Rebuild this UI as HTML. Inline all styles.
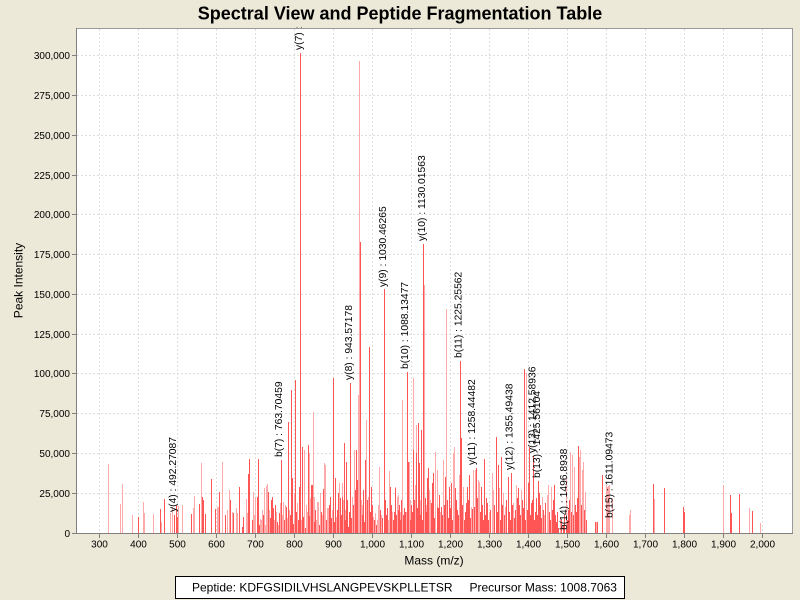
<!DOCTYPE html>
<html><head><meta charset="utf-8"><style>
html,body{margin:0;padding:0;background:#ece9d8;}
svg{display:block;font-family:"Liberation Sans",Arial,sans-serif;}
</style></head><body>
<svg width="800" height="600" viewBox="0 0 800 600" xmlns="http://www.w3.org/2000/svg">
<rect x="0" y="0" width="800" height="600" fill="#ece9d8"/>
<text x="400" y="19.5" text-anchor="middle" font-size="18" font-weight="bold" fill="#000">Spectral View and Peptide Fragmentation Table</text>
<rect x="76.5" y="28.5" width="716" height="505" fill="#fff"/>
<g stroke="#dedede" stroke-width="1" stroke-dasharray="2,2" fill="none" shape-rendering="crispEdges">
<path d="M99.5 29V533M138.5 29V533M177.5 29V533M216.5 29V533M255.5 29V533M294.5 29V533M333.5 29V533M372.5 29V533M411.5 29V533M450.5 29V533M489.5 29V533M528.5 29V533M567.5 29V533M606.5 29V533M645.5 29V533M684.5 29V533M723.5 29V533M762.5 29V533"/>
<path d="M77 55.5H792M77 95.5H792M77 135.5H792M77 175.5H792M77 214.5H792M77 254.5H792M77 294.5H792M77 334.5H792M77 373.5H792M77 413.5H792M77 453.5H792M77 493.5H792"/>
</g>
<g stroke-width="1" fill="none" shape-rendering="crispEdges">
<path stroke="#ffaaaa" d="M108.5 533V464M120.5 533V504M122.5 533V484M132.5 533V515M143.5 533V502M144.5 533V513M153.5 533V514M161.5 533V522M170.5 533V513M172.5 533V507M178.5 533V506M182.5 533V505M193.5 533V508M194.5 533V496M201.5 533V463M217.5 533V507M218.5 533V507M222.5 533V462M227.5 533V510M229.5 533V490M232.5 533V512M236.5 533V508M237.5 533V513M246.5 533V499M247.5 533V513M253.5 533V492M255.5 533V497M260.5 533V519M262.5 533V510M264.5 533V488M266.5 533V486M267.5 533V484M280.5 533V503M283.5 533V502M285.5 533V505M294.5 533V493M297.5 533V503M304.5 533V450M306.5 533V505M309.5 533V453M310.5 533V498M313.5 533V412M314.5 533V497M317.5 533V502M318.5 533V502M320.5 533V493M324.5 533V463M325.5 533V465M327.5 533V508M328.5 533V508M336.5 533V517M339.5 533V483M342.5 533V483M343.5 533V500M352.5 533V497M354.5 533V450M358.5 533V395M359.5 533V61M361.5 533V500M366.5 533V420M368.5 533V497M373.5 533V517M375.5 533V513M379.5 533V467M389.5 533V471M392.5 533V512M395.5 533V487M397.5 533V497M398.5 533V495M402.5 533V400M409.5 533V462M413.5 533V378M415.5 533V485M416.5 533V425M420.5 533V500M424.5 533V285M429.5 533V490M430.5 533V500M433.5 533V510M435.5 533V452M437.5 533V470M443.5 533V460M446.5 533V309M453.5 533V453M454.5 533V447M459.5 533V475M463.5 533V487M471.5 533V507M473.5 533V470M475.5 533V470M478.5 533V480M479.5 533V482M489.5 533V512M492.5 533V473M493.5 533V490M499.5 533V488M503.5 533V493M505.5 533V507M513.5 533V503M516.5 533V485M521.5 533V490M526.5 533V373M542.5 533V497M544.5 533V515M547.5 533V495M548.5 533V485M551.5 533V487M560.5 533V517M566.5 533V479M570.5 533V452M572.5 533V455M574.5 533V467M579.5 533V457M580.5 533V450M582.5 533V470M583.5 533V462M585.5 533V492M596.5 533V522M606.5 533V485M607.5 533V487M608.5 533V486M609.5 533V485M612.5 533V498M629.5 533V515M630.5 533V510M654.5 533V499M723.5 533V485M749.5 533V508M760.5 533V523M254.5 533V515M261.5 533V520M265.5 533V525M269.5 533V510M274.5 533V520M276.5 533V512M278.5 533V525M282.5 533V515M287.5 533V518M289.5 533V510M296.5 533V525M301.5 533V520M307.5 533V512M316.5 533V520M322.5 533V515M332.5 533V510M339.5 533V520M345.5 533V510M353.5 533V520M360.5 533V515M362.5 533V505M367.5 533V515M377.5 533V520M378.5 533V505M381.5 533V515M388.5 533V520M400.5 533V512M404.5 533V520M406.5 533V512M410.5 533V500M419.5 533V522M426.5 533V505M431.5 533V515M435.5 533V505M440.5 533V512"/>
<path stroke="#ff5555" d="M138.5 533V517M160.5 533V509M164.5 533V499M174.5 533V515M176.5 533V505M177.5 533V517M191.5 533V514M199.5 533V504M202.5 533V497M203.5 533V500M205.5 533V514M211.5 533V479M215.5 533V509M219.5 533V492M225.5 533V515M230.5 533V500M233.5 533V513M239.5 533V487M242.5 533V527M243.5 533V517M248.5 533V474M249.5 533V459M257.5 533V497M258.5 533V459M268.5 533V492M271.5 533V500M272.5 533V497M273.5 533V508M275.5 533V505M281.5 533V460M286.5 533V507M288.5 533V422M291.5 533V390M292.5 533V478M295.5 533V380M299.5 533V487M300.5 533V53M302.5 533V447M303.5 533V517M308.5 533V445M311.5 533V485M312.5 533V485M323.5 533V489M330.5 533V497M333.5 533V378M335.5 533V478M338.5 533V493M340.5 533V498M342.5 533V497M344.5 533V443M346.5 533V462M347.5 533V500M348.5 533V527M350.5 533V383M355.5 533V490M356.5 533V450M357.5 533V480M360.5 533V242M363.5 533V490M365.5 533V460M367.5 533V500M369.5 533V347M371.5 533V487M384.5 533V289M386.5 533V515M390.5 533V487M395.5 533V488M398.5 533V510M401.5 533V500M403.5 533V515M407.5 533V372M408.5 533V462M413.5 533V450M416.5 533V453M418.5 533V423M419.5 533V463M421.5 533V430M423.5 533V244M427.5 533V478M428.5 533V468M432.5 533V483M431.5 533V503M433.5 533V473M437.5 533V507M441.5 533V507M445.5 533V477M447.5 533V500M449.5 533V487M451.5 533V483M455.5 533V488M457.5 533V510M460.5 533V361M461.5 533V438M466.5 533V503M467.5 533V487M469.5 533V475M472.5 533V509M474.5 533V507M476.5 533V468M481.5 533V487M484.5 533V459M487.5 533V503M496.5 533V437M498.5 533V465M501.5 533V457M508.5 533V477M511.5 533V473M518.5 533V488M522.5 533V500M524.5 533V369M528.5 533V483M529.5 533V447M531.5 533V503M533.5 533V456M538.5 533V481M539.5 533V493M554.5 533V485M563.5 533V525M566.5 533V530M578.5 533V446M595.5 533V522M597.5 533V522M602.5 533V475M653.5 533V484M664.5 533V488M683.5 533V507M684.5 533V512M730.5 533V495M731.5 533V513M739.5 533V494M752.5 533V511M252.5 533V520M259.5 533V525M263.5 533V515M270.5 533V518M277.5 533V522M279.5 533V513M284.5 533V520M290.5 533V515M293.5 533V524M296.5 533V512M298.5 533V520M305.5 533V528M309.5 533V516M314.5 533V522M315.5 533V510M319.5 533V525M321.5 533V512M326.5 533V520M329.5 533V505M331.5 533V518M334.5 533V522M337.5 533V510M341.5 533V515M345.5 533V520M349.5 533V512M351.5 533V518M353.5 533V505M362.5 533V515M364.5 533V522M370.5 533V512M372.5 533V505M374.5 533V520M376.5 533V525M380.5 533V510M382.5 533V518M385.5 533V500M387.5 533V508M391.5 533V505M393.5 533V520M394.5 533V512M396.5 533V515M399.5 533V505M400.5 533V520M404.5 533V508M405.5 533V512M410.5 533V520M411.5 533V505M412.5 533V512M414.5 533V500M417.5 533V508M420.5 533V515M422.5 533V520M425.5 533V498M426.5 533V512M434.5 533V518M438.5 533V508M439.5 533V495M442.5 533V515M444.5 533V505M448.5 533V518M450.5 533V508M452.5 533V520M456.5 533V500M458.5 533V515M462.5 533V505M464.5 533V520M465.5 533V512M468.5 533V500M470.5 533V518M477.5 533V498M480.5 533V512M482.5 533V505M483.5 533V520M485.5 533V515M486.5 533V498M488.5 533V520M490.5 533V510M494.5 533V505M497.5 533V512M500.5 533V520M502.5 533V505M504.5 533V515M506.5 533V500M509.5 533V512M510.5 533V520M512.5 533V505M514.5 533V518M515.5 533V510M517.5 533V498M519.5 533V505M520.5 533V515M523.5 533V508M525.5 533V520M527.5 533V510M530.5 533V515M532.5 533V500M534.5 533V520M535.5 533V512M536.5 533V498M537.5 533V515M540.5 533V505M541.5 533V518M543.5 533V510M545.5 533V503M549.5 533V512M550.5 533V520M552.5 533V510M553.5 533V500M555.5 533V515M556.5 533V522M557.5 533V512M558.5 533V528M561.5 533V520M564.5 533V515M567.5 533V520M568.5 533V510M569.5 533V500M571.5 533V512M573.5 533V515M575.5 533V505M576.5 533V512M577.5 533V498M581.5 533V505M584.5 533V510M586.5 533V520"/>
</g>
<g font-size="10.3" fill="#000">
<text transform="translate(175.8,512) rotate(-90)">y(4) : 492.27087</text>
<text transform="translate(282.2,457) rotate(-90)">b(7) : 763.70459</text>
<text transform="translate(301.8,50) rotate(-90)">y(7) :</text>
<text transform="translate(351.8,380) rotate(-90)">y(8) : 943.57178</text>
<text transform="translate(385.8,287) rotate(-90)">y(9) : 1030.46265</text>
<text transform="translate(408.2,369) rotate(-90)">b(10) : 1088.13477</text>
<text transform="translate(424.8,241) rotate(-90)">y(10) : 1130.01563</text>
<text transform="translate(461.5,358) rotate(-90)">b(11) : 1225.25562</text>
<text transform="translate(475,465) rotate(-90)">y(11) : 1258.44482</text>
<text transform="translate(512.5,470) rotate(-90)">y(12) : 1355.49438</text>
<text transform="translate(535.5,453) rotate(-90)">y(13) : 1412.58936</text>
<text transform="translate(540,478) rotate(-90)">b(13) : 1425.56104</text>
<text transform="translate(567,530) rotate(-90)">b(14) : 1496.8938</text>
<text transform="translate(612.5,518) rotate(-90)">b(15) : 1611.09473</text>
</g>
<rect x="76.5" y="28.5" width="716" height="505" fill="none" stroke="#9a9a9a" stroke-width="1" shape-rendering="crispEdges"/>
<g stroke="#808080" stroke-width="1" shape-rendering="crispEdges" fill="none">
<path d="M76.5 28V534M76 533.5H793"/>
<path d="M72 55.5H76M72 95.5H76M72 135.5H76M72 175.5H76M72 214.5H76M72 254.5H76M72 294.5H76M72 334.5H76M72 373.5H76M72 413.5H76M72 453.5H76M72 493.5H76M72 533.5H76"/>
<path d="M99.5 534V538M138.5 534V538M177.5 534V538M216.5 534V538M255.5 534V538M294.5 534V538M333.5 534V538M372.5 534V538M411.5 534V538M450.5 534V538M489.5 534V538M528.5 534V538M567.5 534V538M606.5 534V538M645.5 534V538M684.5 534V538M723.5 534V538M762.5 534V538"/>
</g>
<g font-size="10" fill="#000" text-anchor="end">
<text x="70" y="59.2">300,000</text>
<text x="70" y="99.2">275,000</text>
<text x="70" y="139.2">250,000</text>
<text x="70" y="179.2">225,000</text>
<text x="70" y="218.2">200,000</text>
<text x="70" y="258.2">175,000</text>
<text x="70" y="298.2">150,000</text>
<text x="70" y="338.2">125,000</text>
<text x="70" y="377.2">100,000</text>
<text x="70" y="417.2">75,000</text>
<text x="70" y="457.2">50,000</text>
<text x="70" y="497.2">25,000</text>
<text x="70" y="537.2">0</text>
</g>
<g font-size="10" fill="#000" text-anchor="middle">
<text x="99.5" y="547.5">300</text>
<text x="138.5" y="547.5">400</text>
<text x="177.5" y="547.5">500</text>
<text x="216.5" y="547.5">600</text>
<text x="255.5" y="547.5">700</text>
<text x="294.5" y="547.5">800</text>
<text x="333.5" y="547.5">900</text>
<text x="372.5" y="547.5">1,000</text>
<text x="411.5" y="547.5">1,100</text>
<text x="450.5" y="547.5">1,200</text>
<text x="489.5" y="547.5">1,300</text>
<text x="528.5" y="547.5">1,400</text>
<text x="567.5" y="547.5">1,500</text>
<text x="606.5" y="547.5">1,600</text>
<text x="645.5" y="547.5">1,700</text>
<text x="684.5" y="547.5">1,800</text>
<text x="723.5" y="547.5">1,900</text>
<text x="762.5" y="547.5">2,000</text>
</g>
<text x="434" y="564.5" font-size="12" text-anchor="middle" fill="#000">Mass (m/z)</text>
<text transform="translate(22.5,280.5) rotate(-90)" font-size="12" text-anchor="middle" fill="#000">Peak Intensity</text>
<rect x="175.5" y="576.5" width="449" height="22" fill="#fff" stroke="#000" stroke-width="1" shape-rendering="crispEdges"/>
<text x="192" y="591.5" font-size="12" fill="#000">Peptide: KDFGSIDILVHSLANGPEVSKPLLETSR</text>
<text x="469.5" y="591.5" font-size="12" fill="#000">Precursor Mass: 1008.7063</text>
</svg>
</body></html>
